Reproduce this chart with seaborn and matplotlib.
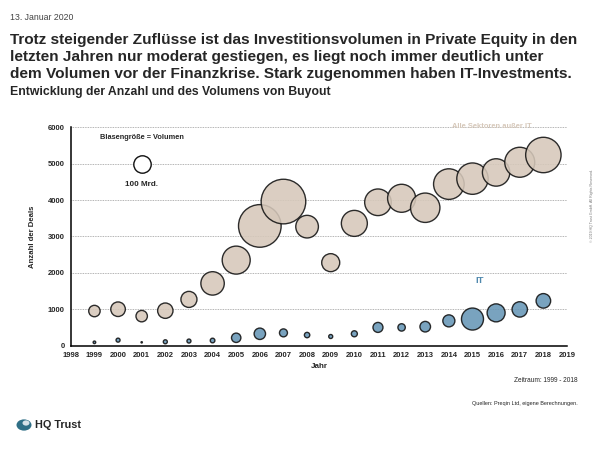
# Buyout deals: count vs. volume bubble chart (HQ Trust style)

import matplotlib.pyplot as plt
import matplotlib.patches as mpatches
import numpy as np
import pandas as pd
import seaborn as sns

years = list(range(1999, 2019))

# all sectors except IT: number of deals and volume (bn)
deals_other = [950, 1000, 810, 960, 1270, 1710, 2350, 3290, 3960, 3270,
               2280, 3360, 3940, 4050, 3790, 4440, 4590, 4760, 5040, 5240]
volume_other = [43, 70, 43, 78, 85, 181, 259, 600, 657, 169,
                107, 223, 234, 259, 285, 309, 325, 248, 297, 414]

# IT
deals_it = [90, 150, 90, 105, 125, 140, 215, 325, 350, 290,
            250, 325, 500, 500, 520, 680, 730, 900, 995, 1230]
volume_it = [2.2, 5.3, 0.6, 5.3, 5.3, 7, 29, 43, 21, 9.6,
             5.3, 12, 33, 18, 37, 48, 160, 107, 78, 70]

ref_volume = 100  # "100 Mrd." legend bubble

BEIGE = "#d6c8ba"
BLUE = "#6796b6"
VMAX = 700
S_PER_BN = 1.57  # marker area (pt^2) per bn

df = pd.DataFrame({
    "Jahr": years + years,
    "Deals": deals_other + deals_it,
    "Volumen": volume_other + volume_it,
    "Sektor": ["Alle Sektoren außer IT"] * len(years) + ["IT"] * len(years),
})

sns.set_style("white")
plt.rcParams["font.family"] = ["Liberation Sans", "DejaVu Sans"]

fig = plt.figure(figsize=(6, 4.5), dpi=100)
ax = fig.add_axes([0.118, 0.232, 0.827, 0.485])

sns.scatterplot(
    data=df, x="Jahr", y="Deals", hue="Sektor", size="Volumen",
    sizes=(0, S_PER_BN * VMAX), size_norm=(0, VMAX),
    palette={"Alle Sektoren außer IT": BEIGE, "IT": BLUE},
    edgecolor="#111111", linewidth=1.0, alpha=0.88, legend=False,
    ax=ax, zorder=3,
)

# reference bubble
ax.scatter([2001], [5000], s=S_PER_BN * ref_volume, facecolor="white",
           edgecolor="#111111", linewidth=1.0, zorder=3)
ax.text(2001, 5730, "Blasengröße = Volumen", ha="center", va="center",
        fontsize=5.3, fontweight="bold")
ax.text(2001, 4420, "100 Mrd.", ha="center", va="center",
        fontsize=5.9, fontweight="bold")
ax.text(2015.8, 6010, "Alle Sektoren außer IT", ha="center", va="center",
        fontsize=5.4, fontweight="bold", color=BEIGE, zorder=4)
ax.text(2015.3, 1780, "IT", ha="center", va="center",
        fontsize=6.8, fontweight="bold", color="#4f88ad")

ax.set_xlim(1998, 2019)
ax.set_ylim(0, 6000)
ax.set_xticks(range(1998, 2020))
ax.set_yticks(range(0, 7000, 1000))
ax.tick_params(axis="both", labelsize=5.5, length=2.5, width=0.8, pad=2,
               direction="out", color="black")
for lbl in ax.get_xticklabels() + ax.get_yticklabels():
    lbl.set_fontweight("bold")
ax.set_xlabel("Jahr", fontsize=5.8, fontweight="bold", labelpad=3)
ax.set_ylabel("Anzahl der Deals", fontsize=5.6, fontweight="bold", labelpad=8)

for y in range(1000, 7000, 1000):
    ax.axhline(y, color="#9a9a9a", linestyle=(0, (1, 1)), linewidth=0.6, zorder=0)
sns.despine(ax=ax)
ax.spines["left"].set_linewidth(1.1)
ax.spines["bottom"].set_linewidth(1.1)
ax.spines["left"].set_color("black")
ax.spines["bottom"].set_color("black")

# header texts
fig.text(10 / 600, 1 - 18 / 450, "13. Januar 2020", fontsize=6.3, color="#444444",
         va="center")
fig.text(10 / 600, 1 - 57 / 450,
         "Trotz steigender Zuflüsse ist das Investitionsvolumen in Private Equity in den\n"
         "letzten Jahren nur moderat gestiegen, es liegt noch immer deutlich unter\n"
         "dem Volumen vor der Finanzkrise. Stark zugenommen haben IT-Investments.",
         fontsize=11.1, fontweight="bold", va="center", linespacing=1.3)
fig.text(10 / 600, 1 - 92 / 450, "Entwicklung der Anzahl und des Volumens von Buyout",
         fontsize=8.8, fontweight="bold", va="center")

# footer texts
fig.text(578 / 600, 1 - 381 / 450, "Zeitraum: 1999 - 2018", fontsize=4.7,
         ha="right", va="center")
fig.text(578 / 600, 1 - 403 / 450, "Quellen: Preqin Ltd, eigene Berechnungen.",
         fontsize=4.0, ha="right", va="center")
fig.text(592 / 600, 1 - 205 / 450, "© 2019 HQ Trust GmbH. All Rights Reserved.",
         fontsize=2.6, color="#777777", rotation=90, ha="center", va="center")

# logo
logo = mpatches.Circle((24 / 600, 1 - 425 / 450), 7.5 / 600, transform=fig.transFigure,
                       facecolor="#2f6f86", edgecolor="none")
fig.patches.append(logo)
hole = mpatches.Circle((26 / 600, 1 - 423 / 450), 3.5 / 600, transform=fig.transFigure,
                       facecolor="#d6e2e8", edgecolor="none")
fig.patches.append(hole)
fig.text(35 / 600, 1 - 425 / 450, "HQ Trust", fontsize=7.8, fontweight="bold",
         va="center")

fig.savefig("out.png", dpi=100)
plt.close(fig)
